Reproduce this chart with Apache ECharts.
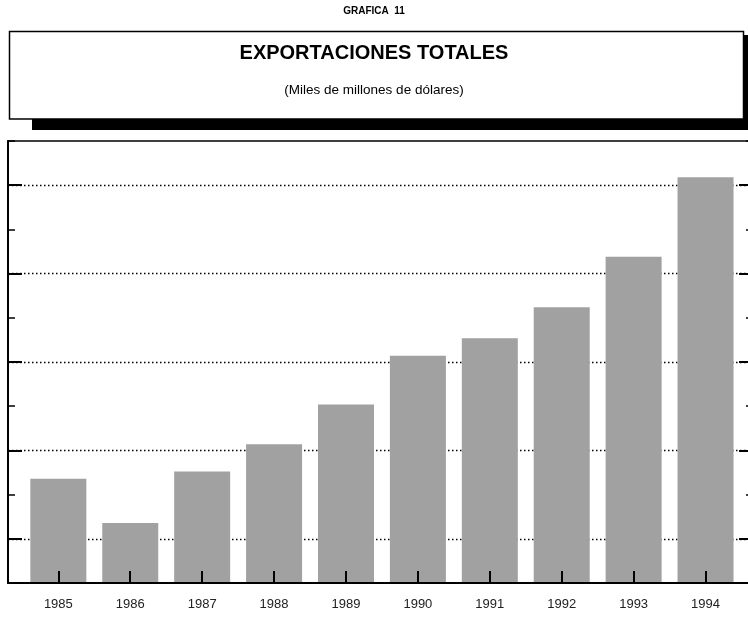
<!DOCTYPE html>
<html><head><meta charset="utf-8">
<script src="https://cdn.jsdelivr.net/npm/echarts@6/dist/echarts.min.js"></script>
<style>html,body{margin:0;padding:0;background:#fff}#c{width:748px;height:617px}</style>
</head><body><div id="c"></div>
<script>
const years = [1985, 1986, 1987, 1988, 1989, 1990, 1991, 1992, 1993, 1994];
const exportsTotal = [26.8, 21.8, 27.6, 30.7, 35.2, 40.7, 42.7, 46.2, 51.9, 60.9];
const yMin = 15, yMax = 65, yStep = 5;
const majorTicks = [20, 30, 40, 50, 60];
const xMin = 1984.3, xMax = 1994.66;

const font = '"Liberation Sans", Arial, Helvetica, sans-serif';
const chart = echarts.init(document.getElementById('c'), null, {renderer: 'canvas'});

function yAx(pos, major) {
  return {
    type: 'value', position: pos, min: yMin, max: yMax, interval: yStep,
    axisLine: {show: !major, lineStyle: {color: '#000', width: 2}},
    axisTick: major
      ? {show: true, inside: true, length: 14, customValues: majorTicks, lineStyle: {color: '#000', width: 2}}
      : {show: true, inside: true, length: 7, lineStyle: {color: '#000', width: 1.5}},
    axisLabel: {show: false},
    splitLine: (major && pos === 'left')
      ? {show: true, lineStyle: {color: '#000', type: [1.5, 2.5], width: 1.3}}
      : {show: false}
  };
}

const option = {
  animation: false,
  backgroundColor: '#fff',
  title: [
    {text: 'GRAFICA  11', left: 'center', top: 6, padding: 0,
     textStyle: {fontFamily: font, fontSize: 10, fontWeight: 'bold', color: '#000'}},
    {text: 'EXPORTACIONES TOTALES', left: 'center', top: 43, padding: 0,
     textStyle: {fontFamily: font, fontSize: 20, fontWeight: 'bold', color: '#000'}},
    {text: '(Miles de millones de dólares)', left: 'center', top: 83, padding: 0,
     textStyle: {fontFamily: font, fontSize: 13.5, fontWeight: 'normal', color: '#000'}}
  ],
  graphic: [
    {type: 'rect', z: 0, shape: {x: 32, y: 119, width: 730, height: 11}, style: {fill: '#000'}},
    {type: 'rect', z: 0, shape: {x: 744, y: 35, width: 20, height: 95}, style: {fill: '#000'}},
    {type: 'rect', z: 1, shape: {x: 9.5, y: 31.5, width: 734, height: 87.5}, style: {fill: '#fff', stroke: '#000', lineWidth: 1.5}}
  ],
  grid: {left: 8, width: 745, top: 141, bottom: 34, containLabel: false, outerBoundsMode: 'none'},
  xAxis: [
    {type: 'value', position: 'bottom', min: xMin, max: xMax, z: 10,
     axisLine: {show: true, lineStyle: {color: '#000', width: 2}},
     axisTick: {show: true, inside: true, length: 12, customValues: years, lineStyle: {color: '#000', width: 2}},
     axisLabel: {show: true, customValues: years, formatter: v => String(v), margin: 15,
                 fontFamily: font, fontSize: 13, color: '#222'},
     splitLine: {show: false}},
    {type: 'value', position: 'top', min: xMin, max: xMax, z: 10,
     axisLine: {show: true, lineStyle: {color: '#000', width: 1.5}},
     axisTick: {show: false}, axisLabel: {show: false}, splitLine: {show: false}}
  ],
  yAxis: [yAx('left', false), yAx('left', true), yAx('right', false), yAx('right', true)],
  series: [{
    type: 'bar', xAxisIndex: 0, yAxisIndex: 0, barWidth: 56,
    itemStyle: {color: '#a1a1a1'},
    data: years.map((y, i) => [y, exportsTotal[i]])
  }]
};
chart.setOption(option);
</script>
</body></html>
